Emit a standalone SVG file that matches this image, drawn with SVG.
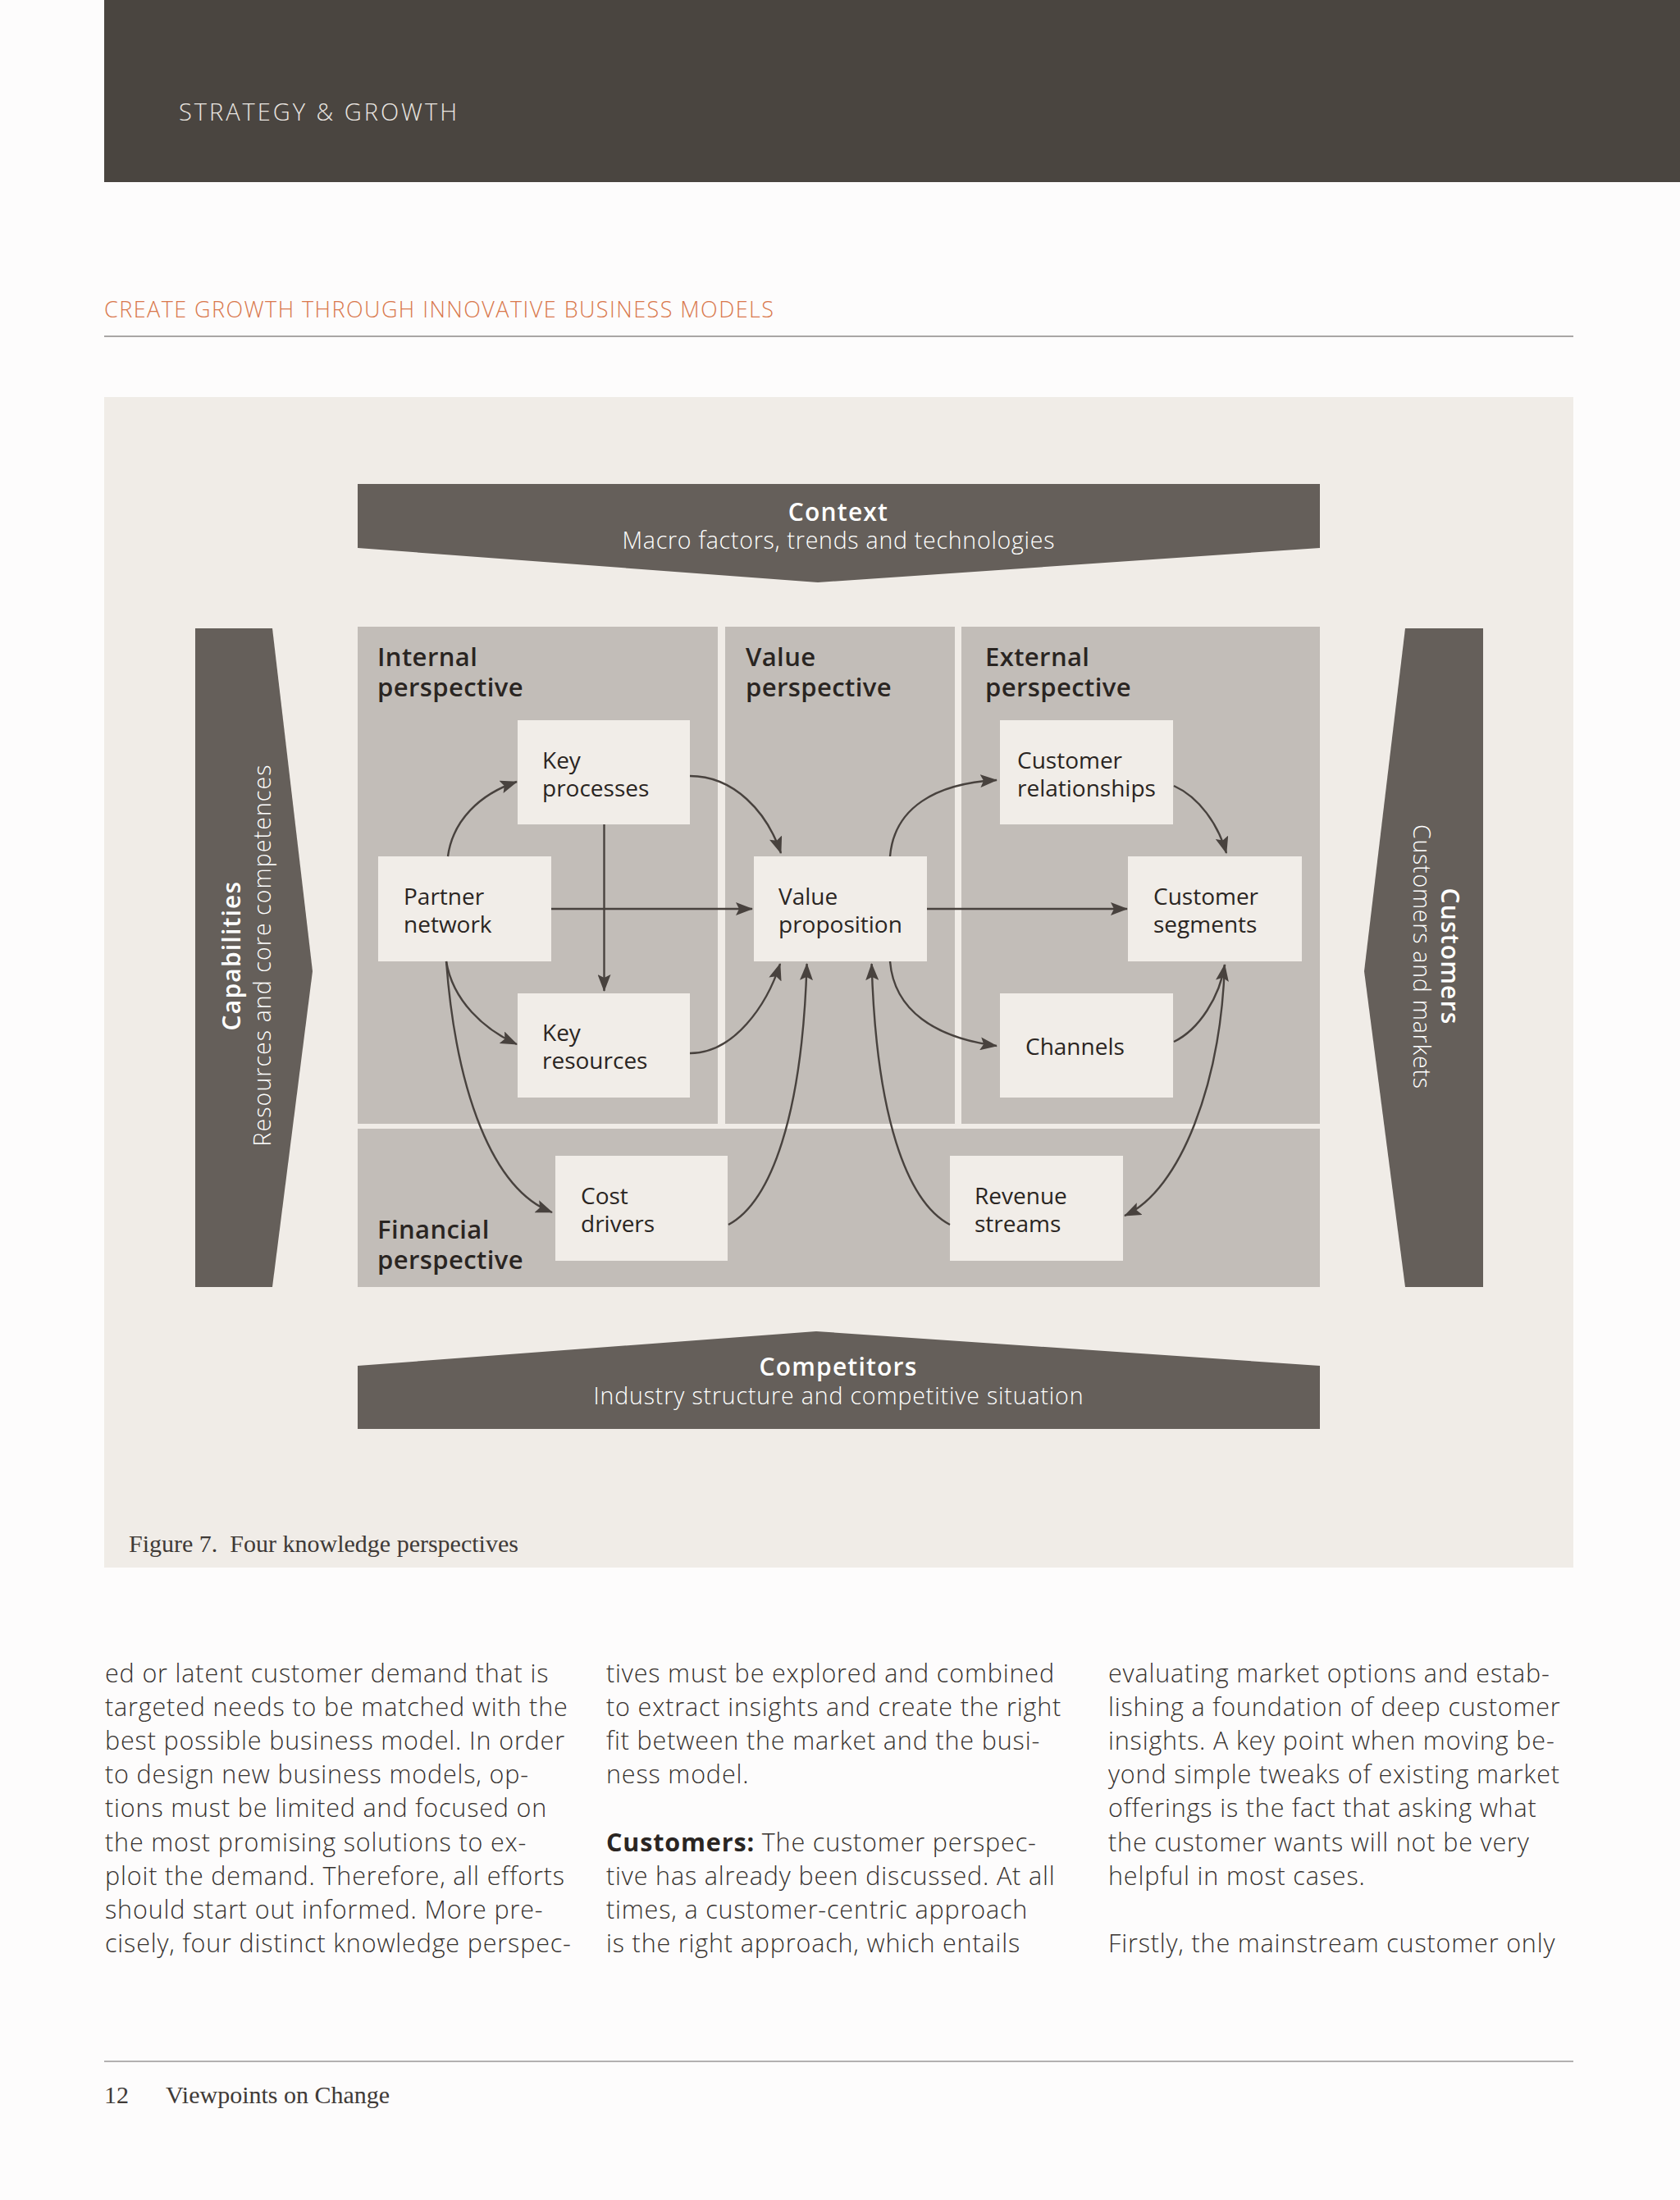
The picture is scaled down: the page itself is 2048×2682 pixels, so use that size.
<svg xmlns="http://www.w3.org/2000/svg" width="2048" height="2682" viewBox="0 0 2048 2682">
<defs>
<style>
.sans{font-family:"Open Sans","Liberation Sans",sans-serif}
.serif{font-family:"Liberation Serif","DejaVu Serif",serif}
.panel{fill:#c2bdb8}
.box{fill:#f1ede8}
.dark{fill:#655f5a}
.head{font-family:"Open Sans","Liberation Sans",sans-serif;font-weight:600;font-size:31px;letter-spacing:0.4px;fill:#2a2522}
.lbl{font-family:"Open Sans","Liberation Sans",sans-serif;font-weight:400;font-size:28px;fill:#2a2522}
.ttl{font-family:"Open Sans","Liberation Sans",sans-serif;font-weight:600;font-size:30px;letter-spacing:1.2px;fill:#ffffff}
.sub{font-family:"Open Sans","Liberation Sans",sans-serif;font-weight:300;font-size:28.5px;fill:#ffffff}
.body{font-family:"Open Sans","Liberation Sans",sans-serif;font-weight:300;font-size:30.5px;letter-spacing:0.85px;fill:#37322f}
.conn{fill:none;stroke:#48423e;stroke-width:2.4}
</style>
<marker id="ah" markerUnits="userSpaceOnUse" viewBox="0 0 21 16" markerWidth="21" markerHeight="16" refX="20" refY="8" orient="auto">
<path d="M0,0 L21,8 L0,16 L4,8 Z" fill="#48423e"/>
</marker>
</defs>
<rect width="2048" height="2682" fill="#fdfcfc"/>
<g id="header">
<rect x="127" y="0" width="1921" height="222" fill="#4a4540"/>
<text x="218" y="147" class="sans" font-size="29" font-weight="300" fill="#ebe7e2" textLength="339">STRATEGY &amp; GROWTH</text>
</g>
<g id="section-title">
<text x="127" y="387" class="sans" font-size="27" font-weight="300" fill="#d9784c" textLength="816">CREATE GROWTH THROUGH INNOVATIVE BUSINESS MODELS</text>
<rect x="127" y="409" width="1791" height="2" fill="#a9a6a5"/>
</g>
<rect id="figure-bg" x="127" y="484" width="1791" height="1427" fill="#f0ece7"/>
<g id="context">
<polygon class="dark" points="436,590 1609,590 1609,668 997,710 436,668"/>
<text x="1022" y="635" class="ttl" text-anchor="middle">Context</text>
<text x="1022" y="669" class="sub" text-anchor="middle" textLength="527">Macro factors, trends and technologies</text>
</g>
<g id="competitors">
<polygon class="dark" points="436,1665 995,1623 1609,1665 1609,1742 436,1742"/>
<text x="1022" y="1677" class="ttl" text-anchor="middle">Competitors</text>
<text x="1022" y="1712" class="sub" text-anchor="middle" textLength="597">Industry structure and competitive situation</text>
</g>
<g id="capabilities">
<polygon class="dark" points="238,766 332,766 381,1184 332,1569 238,1569"/>
<text transform="translate(293,1165) rotate(-90)" class="ttl" text-anchor="middle">Capabilities</text>
<text transform="translate(330,1165) rotate(-90)" class="sub" text-anchor="middle" textLength="465">Resources and core competences</text>
</g>
<g id="customers">
<polygon class="dark" points="1808,766 1713,766 1663,1184 1713,1569 1808,1569"/>
<text transform="translate(1757,1166) rotate(90)" class="ttl" text-anchor="middle">Customers</text>
<text transform="translate(1723,1166) rotate(90)" class="sub" text-anchor="middle" textLength="322">Customers and markets</text>
</g>
<g id="internal-perspective">
<rect class="panel" x="436" y="764" width="439" height="606"/>
<text class="head" x="460" y="812">Internal</text>
<text class="head" x="460" y="849">perspective</text>
</g>
<g id="value-perspective">
<rect class="panel" x="884" y="764" width="280" height="606"/>
<text class="head" x="909" y="812">Value</text>
<text class="head" x="909" y="849">perspective</text>
</g>
<g id="external-perspective">
<rect class="panel" x="1172" y="764" width="437" height="606"/>
<text class="head" x="1201" y="812">External</text>
<text class="head" x="1201" y="849">perspective</text>
</g>
<g id="financial-perspective">
<rect class="panel" x="436" y="1376" width="1173" height="193"/>
<text class="head" x="460" y="1510">Financial</text>
<text class="head" x="460" y="1547">perspective</text>
</g>
<g id="key-processes">
<rect class="box" x="631" y="878" width="210" height="127"/>
<text class="lbl" x="661" y="937">Key</text>
<text class="lbl" x="661" y="971">processes</text>
</g>
<g id="partner-network">
<rect class="box" x="461" y="1044" width="211" height="128"/>
<text class="lbl" x="492" y="1103">Partner</text>
<text class="lbl" x="492" y="1137">network</text>
</g>
<g id="key-resources">
<rect class="box" x="631" y="1211" width="210" height="127"/>
<text class="lbl" x="661" y="1269">Key</text>
<text class="lbl" x="661" y="1303">resources</text>
</g>
<g id="cost-drivers">
<rect class="box" x="677" y="1409" width="210" height="128"/>
<text class="lbl" x="708" y="1468">Cost</text>
<text class="lbl" x="708" y="1502">drivers</text>
</g>
<g id="value-proposition">
<rect class="box" x="919" y="1044" width="211" height="128"/>
<text class="lbl" x="949" y="1103">Value</text>
<text class="lbl" x="949" y="1137">proposition</text>
</g>
<g id="customer-relationships">
<rect class="box" x="1219" y="878" width="211" height="127"/>
<text class="lbl" x="1240" y="937">Customer</text>
<text class="lbl" x="1240" y="971">relationships</text>
</g>
<g id="customer-segments">
<rect class="box" x="1375" y="1044" width="212" height="128"/>
<text class="lbl" x="1406" y="1103">Customer</text>
<text class="lbl" x="1406" y="1137">segments</text>
</g>
<g id="channels">
<rect class="box" x="1219" y="1211" width="211" height="127"/>
<text class="lbl" x="1250" y="1286">Channels</text>
</g>
<g id="revenue-streams">
<rect class="box" x="1158" y="1409" width="211" height="128"/>
<text class="lbl" x="1188" y="1468">Revenue</text>
<text class="lbl" x="1188" y="1502">streams</text>
</g>
<g id="connectors" class="conn" marker-end="url(#ah)">
<path d="M736.5,1005 L736.5,1208"/>
<path d="M672,1108 L917,1108"/>
<path d="M1130,1108 L1374,1108"/>
<path d="M546,1044 C552,1000 585,968 630,953"/>
<path d="M544,1172 C552,1220 590,1255 630,1273"/>
<path d="M544,1172 C556,1330 600,1450 673,1478"/>
<path d="M841,946 C895,946 935,990 952,1040"/>
<path d="M841,1284 C895,1284 935,1225 951,1175"/>
<path d="M888,1493 C940,1465 978,1360 983.6,1175"/>
<path d="M1158,1493 C1105,1465 1068,1360 1062.6,1175"/>
<path d="M1085,1044 C1090,985 1140,955 1215,951"/>
<path d="M1085,1172 C1090,1232 1140,1265 1215,1275"/>
<path d="M1431,958 C1462,972 1485,1005 1495,1040"/>
<path d="M1431,1270 C1462,1255 1487,1215 1493,1176"/>
<path d="M1493,1176 C1488,1320 1440,1450 1371,1482"/>
</g>
<text id="caption" x="157" y="1892" class="serif" font-size="30" fill="#3f3a37" style="white-space:pre">Figure 7.  Four knowledge perspectives</text>
<g id="column-1" class="body">
<text x="128" y="2051">ed or latent customer demand that is</text>
<text x="128" y="2092">targeted needs to be matched with the</text>
<text x="128" y="2133">best possible business model. In order</text>
<text x="128" y="2174">to design new business models, op-</text>
<text x="128" y="2215">tions must be limited and focused on</text>
<text x="128" y="2257">the most promising solutions to ex-</text>
<text x="128" y="2298">ploit the demand. Therefore, all efforts</text>
<text x="128" y="2339">should start out informed. More pre-</text>
<text x="128" y="2380">cisely, four distinct knowledge perspec-</text>
</g>
<g id="column-2" class="body">
<text x="739" y="2051">tives must be explored and combined</text>
<text x="739" y="2092">to extract insights and create the right</text>
<text x="739" y="2133">fit between the market and the busi-</text>
<text x="739" y="2174">ness model.</text>
<text x="739" y="2257"><tspan font-weight="700" fill="#2a2522">Customers:</tspan> The customer perspec-</text>
<text x="739" y="2298">tive has already been discussed. At all</text>
<text x="739" y="2339">times, a customer-centric approach</text>
<text x="739" y="2380">is the right approach, which entails</text>
</g>
<g id="column-3" class="body">
<text x="1351" y="2051">evaluating market options and estab-</text>
<text x="1351" y="2092">lishing a foundation of deep customer</text>
<text x="1351" y="2133">insights. A key point when moving be-</text>
<text x="1351" y="2174">yond simple tweaks of existing market</text>
<text x="1351" y="2215">offerings is the fact that asking what</text>
<text x="1351" y="2257">the customer wants will not be very</text>
<text x="1351" y="2298">helpful in most cases.</text>
<text x="1351" y="2380">Firstly, the mainstream customer only</text>
</g>
<g id="footer">
<rect x="127" y="2512" width="1791" height="2" fill="#b3b0b0"/>
<text x="127" y="2564" class="serif" font-size="30" fill="#3f3a37">12</text>
<text x="202" y="2564" class="serif" font-size="30" fill="#3f3a37">Viewpoints on Change</text>
</g>
</svg>
